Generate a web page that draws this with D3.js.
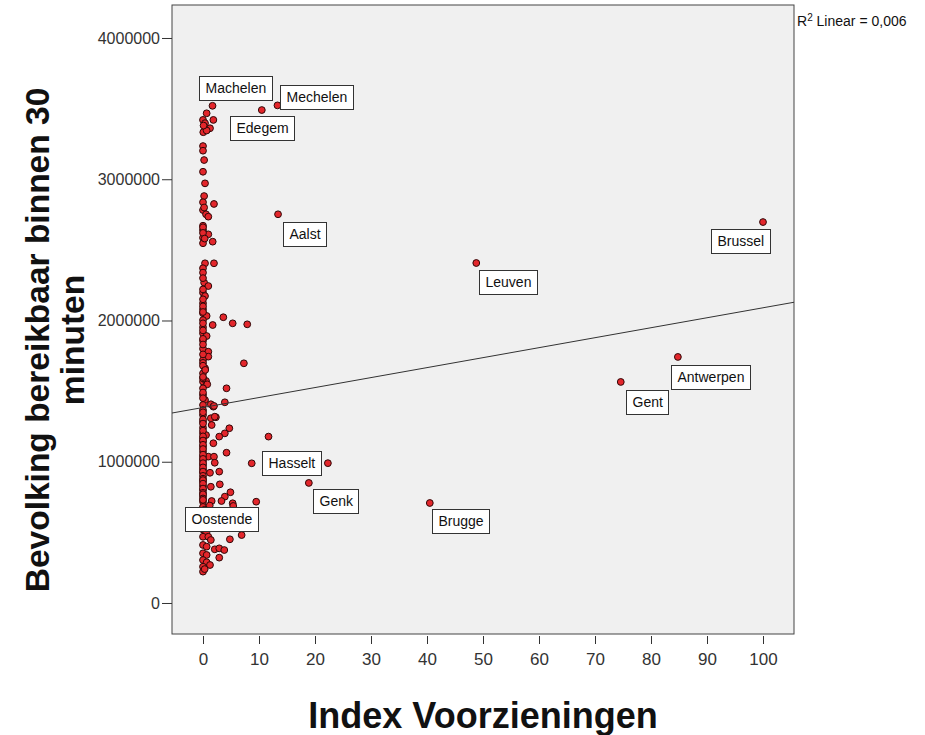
<!DOCTYPE html>
<html><head><meta charset="utf-8">
<script src="https://cdn.jsdelivr.net/npm/d3@7"></script>
<style>body{margin:0;background:#fff}svg{display:block}</style>
</head><body>
<script>
// ---------- data ----------
const xTicks = [0,10,20,30,40,50,60,70,80,90,100];
const yTicks = [0,1000000,2000000,3000000,4000000];
const xTitle = "Index Voorzieningen";
const yTitleLines = ["Bevolking bereikbaar binnen 30","minuten"];
const r2Text = "0,006";
const regIntercept = 1384000;
const regSlope = 7060;

const labelNames = ["Machelen","Mechelen","Edegem","Aalst","Leuven","Brussel","Antwerpen","Gent","Hasselt","Genk","Brugge","Oostende"];
const labelIndex = [1.7,13.3,10.5,13.4,48.8,100,84.8,74.6,8.7,18.9,40.5,3.3];
const labelPop   = [3520000,3523000,3490000,2752000,2407000,2697000,1742000,1565000,989000,850000,708000,722000];

const otherIndex = [
 0.65,1.85,0,0.36,1.25,0.05,0.65,0,0,0.2,0,0.36,0.1,
 0.2,0,1.96,0,0.54,0.95,0,0,0.95,0,1.73,0,0.2,0,0,
 0.36,1.96,0,0,0.2,0.95,0,0.36,0,0,0,0.65,0,1.73,0,0,0.65,0,0,0.95,0,
 0.95,0,7.3,0.36,0,0,0.54,0.76,4.2,0,0,0.36,3.9,0,1.4,1.85,0,0,1.4,2.3,0,1.55,0,4.7,3.9,0,0.54,2.9,11.7,0,
 0,1.85,0,0,4.2,0.95,1.96,0,0,2.1,0,0,1.25,2.9,0,0,0,1.4,3.0,0,4.9,3.9,0,1.55,0,5.3,9.5,
 3.63,5.3,7.9,2.1,0,0,0,0,0,0,0,0,0,0,0,0,0,0,0,0,0,0,0,0,0,0,0,0,0,0,0,0,0,0,0,0,0,0,0,0,0,
 0,0.3,0,0.4,0,0.5,0,0.2,0,0.6,1.2,0.9,5.4,
 0,0.95,4.8,6.9,0,0.65,2.1,2.9,3.8,0,0.65,2.9,0,0.65,0,1.25,0,0.3,1.4,
 22.3,1.96,0.3,0.4
];
const otherPop = [
 3467000,3420000,3420000,3397000,3361000,3333000,3345000,3235000,3202000,3136000,3053000,2971000,3380000,
 2881000,2837000,2825000,2782000,2752000,2735000,2671000,2641000,2610000,2586000,2558000,2547000,2800000,2660000,2620000,
 2405000,2405000,2370000,2339000,2268000,2244000,2197000,2173000,2122000,2079000,2051000,2032000,2003000,1968000,1952000,1909000,1890000,1857000,1800000,1779000,2300000,
 1744000,1720000,1697000,1662000,1626000,1567000,1572000,1548000,1520000,1520000,1473000,1437000,1421000,1402000,1407000,1390000,1366000,1331000,1308000,1315000,1284000,1260000,1241000,1237000,1201000,1201000,1189000,1178000,1178000,1166000,
 1142000,1131000,1107000,1071000,1064000,1036000,1036000,1036000,1007000,993000,977000,946000,922000,930000,922000,859000,828000,823000,840000,800000,784000,753000,758000,722000,717000,706000,717000,
 2023000,1980000,1973000,1319000,1590000,1490000,1450000,1350000,1300000,1270000,1220000,1180000,1150000,1120000,1090000,1050000,1020000,990000,960000,930000,900000,880000,870000,845000,810000,780000,770000,740000,730000,2220000,2150000,2100000,2060000,1980000,1930000,1870000,1830000,1760000,1700000,1680000,1600000,
 680000,660000,640000,620000,600000,580000,560000,540000,520000,500000,690000,650000,687000,
 469000,469000,451000,481000,411000,399000,380000,387000,375000,352000,340000,321000,304000,288000,257000,269000,222000,240000,446000,
 990000,1395000,2580000,1650000
];

// ---------- layout ----------
const W = 925, H = 735;
const plot = {left:172, right:794, top:5, bottom:634};
const svg = d3.select("body").append("svg").attr("width",W).attr("height",H)
  .style("font-family","Arial, 'Liberation Sans', sans-serif");
svg.append("rect").attr("width",W).attr("height",H).attr("fill","#fff");

const x = d3.scaleLinear().domain([(plot.left-203)/5.6, (plot.right-203)/5.6]).range([plot.left, plot.right]);
const y = d3.scaleLinear().domain([-219500, 4233600]).range([plot.bottom, plot.top]);

svg.append("rect").attr("x",plot.left).attr("y",plot.top)
  .attr("width",plot.right-plot.left).attr("height",plot.bottom-plot.top)
  .attr("fill","#f0f0f0").attr("stroke","#444").attr("stroke-width",1);

// axes
const yAxis = svg.append("g").attr("transform",`translate(${plot.left},0)`)
  .call(d3.axisLeft(y).tickValues(yTicks).tickFormat(d=>String(d)).tickSize(10).tickPadding(2));
yAxis.select(".domain").remove();
yAxis.selectAll("line").attr("stroke","#333");
yAxis.selectAll("text").attr("fill","#333").style("font-size","16px").style("font-family","Arial, 'Liberation Sans', sans-serif");

const xAxis = svg.append("g").attr("transform",`translate(0,${plot.bottom+2})`)
  .call(d3.axisBottom(x).tickValues(xTicks).tickFormat(d=>String(d)).tickSize(8).tickPadding(9));
xAxis.select(".domain").remove();
xAxis.selectAll("line").attr("stroke","#333");
xAxis.selectAll("text").attr("fill","#333").style("font-size","17px").style("font-family","Arial, 'Liberation Sans', sans-serif");

// clip
svg.append("clipPath").attr("id","clip").append("rect")
  .attr("x",plot.left).attr("y",plot.top).attr("width",plot.right-plot.left).attr("height",plot.bottom-plot.top);

// points
const pts = otherIndex.map((v,i)=>({x:v,y:otherPop[i]}))
  .concat(labelIndex.map((v,i)=>({x:v,y:labelPop[i]})));
svg.append("g").attr("clip-path","url(#clip)").selectAll("circle").data(pts).join("circle")
  .attr("cx",d=>x(d.x)).attr("cy",d=>y(d.y)).attr("r",3.4)
  .attr("fill","#e3262b").attr("stroke","#2e0808").attr("stroke-width",1);

// regression line
const xd = x.domain();
svg.append("line").attr("clip-path","url(#clip)")
  .attr("x1",x(xd[0])).attr("y1",y(regIntercept+regSlope*xd[0]))
  .attr("x2",x(xd[1])).attr("y2",y(regIntercept+regSlope*xd[1]))
  .attr("stroke","#333").attr("stroke-width",1);

// point labels (box offsets relative to the point)
const place = {
  Machelen:[-14,-30], Mechelen:[3,-20], Edegem:["c",6], Aalst:[5,8], Leuven:[3,7],
  Brussel:[-52,7], Antwerpen:[-7,8], Gent:[5,8], Hasselt:[10,-12], Genk:[4,6], Brugge:[2,6], Oostende:["c",6]
};
const lg = svg.append("g");
labelNames.forEach((n,i)=>{
  const px = x(labelIndex[i]), py = y(labelPop[i]);
  const g = lg.append("g");
  const t = g.append("text").text(n).style("font-size","14px").attr("fill","#111");
  const tw = t.node().getComputedTextLength();
  const bw = tw+12, bh = 24;
  let [dx,dy] = place[n];
  const bx = dx==="c" ? px - bw/2 : px+dx;
  const by = py+dy;
  g.insert("rect","text").attr("x",Math.round(bx)+0.5).attr("y",Math.round(by)+0.5)
    .attr("width",Math.round(bw)).attr("height",bh).attr("fill","#fff").attr("stroke","#333").attr("stroke-width",1);
  t.attr("x",Math.round(bx)+0.5+bw/2).attr("y",Math.round(by)+bh/2+5).attr("text-anchor","middle");
});

// R2 text
const r2 = svg.append("text").attr("x",plot.right+3).attr("y",26).attr("fill","#111").style("font-size","14px");
r2.append("tspan").text("R");
r2.append("tspan").text("2").style("font-size","10px").attr("dy",-5);
r2.append("tspan").text(" Linear = "+r2Text).attr("dy",5);

// axis titles
svg.append("text").attr("x",(plot.left+plot.right)/2).attr("y",728)
  .attr("text-anchor","middle").style("font-size","36px").style("font-weight","bold").attr("fill","#111").text(xTitle);
const yt = svg.append("g");
yTitleLines.forEach((s,i)=>{
  yt.append("text").attr("transform",`translate(${49+i*35},340) rotate(-90)`)
    .attr("text-anchor","middle").style("font-size","33.5px").style("font-weight","bold").attr("fill","#111").text(s);
});
</script>
</body></html>
